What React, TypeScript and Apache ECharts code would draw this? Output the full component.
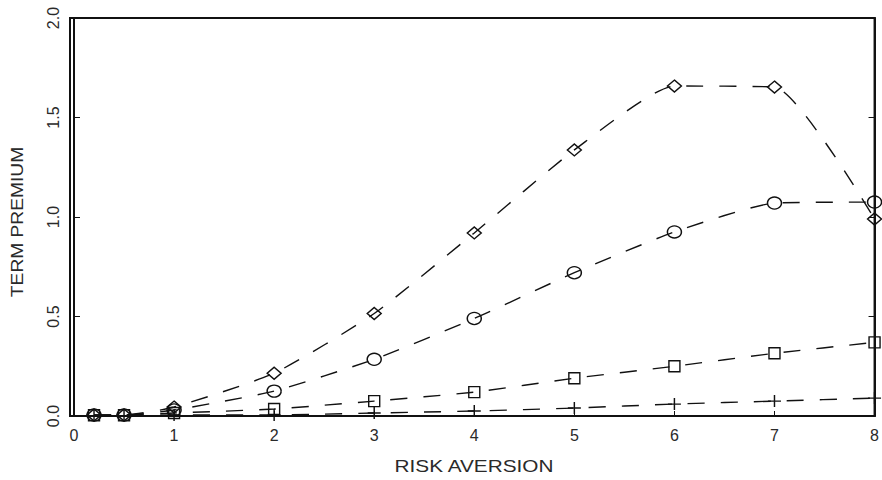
import React, { useEffect, useRef } from "react";
import * as echarts from "echarts";

const xValues = [0.2, 0.5, 1, 2, 3, 4, 5, 6, 7, 8];
const diamondSeries = [0.005, 0.005, 0.045, 0.215, 0.515, 0.92, 1.337, 1.658, 1.653, 0.99];
const circleSeries = [0.005, 0.005, 0.03, 0.125, 0.285, 0.49, 0.72, 0.925, 1.07, 1.075];
const squareSeries = [0.004, 0.004, 0.015, 0.035, 0.075, 0.12, 0.19, 0.25, 0.315, 0.37];
const plusSeries = [0.002, 0.002, 0.005, 0.005, 0.015, 0.025, 0.04, 0.06, 0.075, 0.09];
const xTicks = [0, 1, 2, 3, 4, 5, 6, 7, 8];
const yTicks = [0, 0.5, 1.0, 1.5, 2.0];
const xTitle = "RISK AVERSION";
const yTitle = "TERM PREMIUM";

const FONT = "Liberation Sans";
const INK = "#111";
const TXT = "#2a2a2a";

export default function App() {
  const ref = useRef<HTMLDivElement>(null);
  useEffect(() => {
    if (!ref.current) return;
    const chart = echarts.init(ref.current, undefined, { renderer: "svg" });
    const mk = (vals: number[], symbol: string, size: number | number[]) => ({
      type: "line",
      data: xValues.map((x, i) => [x, vals[i]]),
      symbol,
      symbolSize: size,
      smooth: 0.18,
      clip: false,
      lineStyle: { color: INK, width: 1.4, type: [17, 16] },
      itemStyle: { color: "transparent", borderColor: INK, borderWidth: 1.4 },
      emphasis: { disabled: true },
    });
    chart.setOption({
      animation: false,
      backgroundColor: "#fff",
      grid: { left: 70, right: 5, top: 18, bottom: 64, show: true, borderColor: INK, borderWidth: 2, backgroundColor: "transparent" },
      graphic: [
        {
          type: "text",
          x: 474,
          y: 466,
          scaleX: 1.3,
          style: { text: xTitle, fontFamily: FONT, fontSize: 16, fill: TXT, align: "center", verticalAlign: "middle" },
        },
        {
          type: "text",
          x: 18,
          y: 222,
          rotation: Math.PI / 2,
          scaleX: 1.2,
          style: { text: yTitle, fontFamily: FONT, fontSize: 16, fill: TXT, align: "center", verticalAlign: "middle" },
        },
      ],
      xAxis: [
        {
          type: "value",
          min: -0.04,
          max: 8,
          axisLine: { show: true, lineStyle: { color: INK, width: 2 } },
          axisTick: { show: true, inside: true, length: 5, customValues: xTicks, lineStyle: { color: INK } },
          axisLabel: { customValues: xTicks, fontFamily: FONT, fontSize: 16, color: TXT, margin: 11 },
          splitLine: { show: false },
        },
      ],
      yAxis: [
        {
          type: "value",
          min: 0,
          max: 2,
          axisLine: { show: true, lineStyle: { color: INK, width: 2 } },
          axisTick: { show: true, inside: true, length: 6, customValues: yTicks, lineStyle: { color: INK } },
          axisLabel: {
            customValues: yTicks,
            rotate: 90,
            fontFamily: FONT,
            fontSize: 16,
            color: TXT,
            margin: 9,
            formatter: (v: number) => v.toFixed(1),
          },
          splitLine: { show: false },
        },
        {
          type: "value",
          min: 0,
          max: 2,
          position: "right",
          axisLine: { show: true, lineStyle: { color: INK, width: 2 } },
          axisTick: { show: true, inside: true, length: 6, customValues: yTicks, lineStyle: { color: INK } },
          axisLabel: { show: false },
          splitLine: { show: false },
        },
      ],
      series: [
        mk(diamondSeries, "diamond", [14, 12]),
        mk(circleSeries, "circle", [14, 12]),
        mk(squareSeries, "rect", [11, 11]),
        mk(plusSeries, "path://M0,-6L0,6M-6,0L6,0", [13, 12]),
      ],
    });
    return () => chart.dispose();
  }, []);
  return <div ref={ref} style={{ width: 882, height: 480, position: "absolute", left: 0, top: 0 }} />;
}
